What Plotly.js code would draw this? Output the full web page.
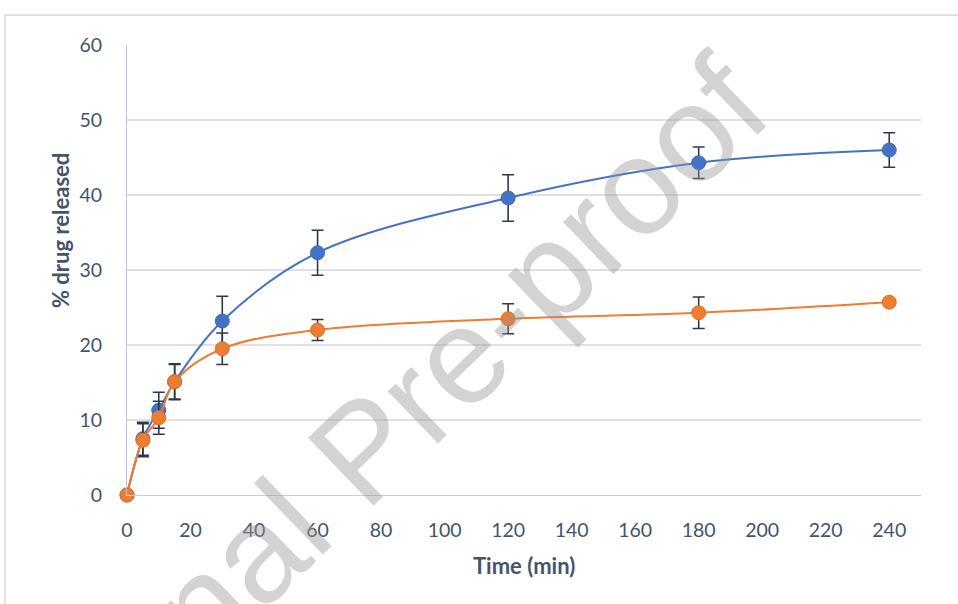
<!DOCTYPE html>
<html>
<head>
<meta charset="utf-8">
<script src="https://cdn.plot.ly/plotly-3.0.1.min.js"></script>
<style>
  html, body { margin: 0; padding: 0; background: #ffffff; }
  #chart { width: 958px; height: 604px; }
</style>
</head>
<body>
<div id="chart"></div>
<script>
// ---- data ----
const timeMin = [0, 5, 10, 15, 30, 60, 120, 180, 240];
const seriesA = [0, 7.5, 11.3, 15.1, 23.2, 32.3, 39.6, 44.3, 46.0];
const seriesAErr = [0, 2.2, 2.4, 2.4, 3.3, 3.0, 3.1, 2.1, 2.3];
const seriesB = [0, 7.3, 10.3, 15.1, 19.5, 22.0, 23.5, 24.3, 25.7];
const seriesBErr = [0, 2.2, 2.2, 2.3, 2.1, 1.4, 2.0, 2.1, 0.4];
const xTicks = [0, 20, 40, 60, 80, 100, 120, 140, 160, 180, 200, 220, 240];
const yTicks = [0, 10, 20, 30, 40, 50, 60];
const xTitle = 'Time (min)';
const yTitle = '% drug released';
const watermark = 'Journal Pre-proof';

// ---- layout geometry (pixels) ----
const W = 958, H = 604;
const M = { l: 127, r: 37, t: 45, b: 109 };
const PW = W - M.l - M.r, PH = H - M.t - M.b;
const px = x => (x - M.l) / PW;
const py = y => (H - M.b - y) / PH;

const textColor = '#44546a';
const errColor = '#2e3a4b';

function series(y, err, color, lineColor) {
  return {
    x: timeMin, y: y, type: 'scatter', mode: 'lines+markers',
    line: { color: color, width: 2, shape: 'spline', smoothing: 1 },
    marker: { color: color, size: 14, line: { color: lineColor, width: 1 } },
    error_y: { type: 'data', array: err, visible: true, color: errColor, thickness: 1.6, width: 6 },
    cliponaxis: false, showlegend: false, hoverinfo: 'x+y'
  };
}

const data = [
  series(seriesA, seriesAErr, '#4472c4', '#3f69b6'),
  series(seriesB, seriesBErr, '#ed7d31', '#dc7029')
];

const layout = {
  width: W, height: H,
  margin: M,
  paper_bgcolor: '#ffffff', plot_bgcolor: '#ffffff',
  font: { family: 'Lato, "Open Sans", sans-serif', color: textColor, size: 19 },
  xaxis: {
    range: [0, 250], tickvals: xTicks, ticktext: xTicks.map(String),
    showgrid: false, zeroline: false, showline: true, linecolor: '#c6ccd6', linewidth: 1,
    ticks: '', ticklabelstandoff: 18, tickfont: { size: 19.5, color: textColor }, fixedrange: true
  },
  yaxis: {
    range: [0, 60], tickvals: yTicks, ticktext: yTicks.map(String),
    showgrid: true, gridcolor: '#dde1e6', gridwidth: 1.3, zeroline: false,
    showline: true, linecolor: '#bcc6d8', linewidth: 1,
    ticks: '', ticklabelstandoff: 20, tickfont: { size: 19.5, color: textColor }, fixedrange: true
  },
  shapes: [
    { type: 'rect', xref: 'paper', yref: 'paper', layer: 'below',
      x0: px(5), x1: px(1000), y0: py(700), y1: py(15),
      line: { color: '#d9d9d9', width: 1.5 }, fillcolor: 'rgba(0,0,0,0)' }
  ],
  annotations: [
    { text: '<b>' + xTitle + '</b>', xref: 'paper', yref: 'paper', x: px(524), y: py(565),
      showarrow: false, xanchor: 'center', yanchor: 'middle', font: { size: 22, color: textColor } },
    { text: '<b>' + yTitle + '</b>', xref: 'paper', yref: 'paper', x: px(60), y: py(231),
      textangle: -90, showarrow: false, xanchor: 'center', yanchor: 'middle', font: { size: 22, color: textColor } },
    { text: watermark, xref: 'paper', yref: 'paper', x: px(362), y: py(450),
      textangle: -44, showarrow: false, xanchor: 'center', yanchor: 'middle',
      font: { family: '"Liberation Sans", Arial, sans-serif', size: 137, color: 'rgba(150,150,150,0.42)' } }
  ]
};

Plotly.newPlot('chart', data, layout, { displayModeBar: false, staticPlot: true });
</script>
</body>
</html>
